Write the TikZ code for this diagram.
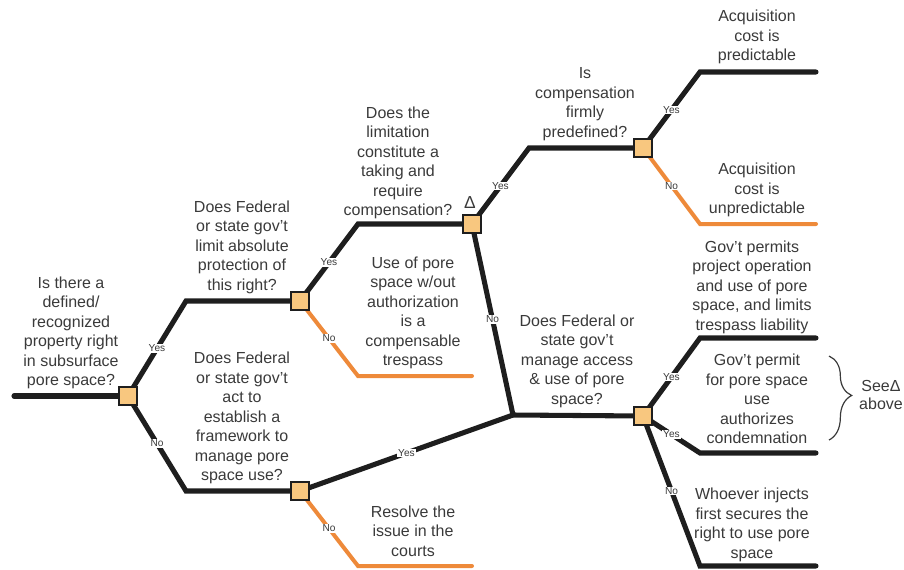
\documentclass[tikz,border=0pt]{standalone}
\usepackage{fontspec}
\setmainfont{Liberation Sans}
\usetikzlibrary{backgrounds,decorations.pathreplacing}
\definecolor{txt}{HTML}{3A3A3A}
\definecolor{boxfill}{HTML}{F8C77F}
\definecolor{nobranch}{HTML}{EE8A3A}
\definecolor{ink}{HTML}{1E1E1E}

\begin{document}
\begin{tikzpicture}[x=0.75pt,y=-0.75pt,
  decision/.style={rectangle, draw=ink, fill=boxfill, line width=1.8pt,
                   minimum size=13.2pt, inner sep=0pt},
  yesline/.style={draw=ink, line width=3.8pt, line cap=round, line join=miter},
  noline/.style={draw=nobranch, line width=3pt, line cap=round, line join=miter},
  q/.style={text=txt, align=center, font=\fontsize{12}{14.6}\selectfont, inner sep=0pt},
  tag/.style={fill=white, text=txt, font=\fontsize{7.6}{8}\selectfont, inner sep=0.6pt},
  brc/.style={draw=txt, line width=0.9pt,
              decorate, decoration={brace, amplitude=17pt, aspect=0.47}},
]
\useasboundingbox (0,0) rectangle (904,569);

% decision boxes
\node[decision] (b1) at (128,396) {};
\node[decision] (b2) at (300,301) {};
\node[decision] (b3) at (300,491) {};
\node[decision] (b4) at (472,224) {};
\node[decision] (b5) at (643,416) {};
\node[decision] (b6) at (643,148) {};

% bends, junction and free ends of the branches
\coordinate (s0) at (14,396);
\coordinate (c1y) at (186,301);
\coordinate (c1n) at (186,491);
\coordinate (c2y) at (358,224);
\coordinate (c2n) at (358,376);
\coordinate (e2n) at (472,376);
\coordinate (c3n) at (358,566);
\coordinate (e3n) at (472,566);
\coordinate (j)   at (513,415);
\coordinate (c4y) at (529,148);
\coordinate (c6y) at (700,72);
\coordinate (e6y) at (816,72);
\coordinate (c6n) at (700,224);
\coordinate (e6n) at (816,224);
\coordinate (c5a) at (700,338);
\coordinate (e5a) at (816,338);
\coordinate (c5b) at (700,453);
\coordinate (e5b) at (816,453);
\coordinate (c5n) at (700,566);
\coordinate (e5n) at (816,566);

\begin{scope}[on background layer]
  \draw[yesline] (s0) -- (b1.center);
  % root question
  \draw[yesline] (b1.center) -- node[tag] {Yes} (c1y) -- (b2.center);
  \draw[yesline] (b1.center) -- node[tag] {No} (c1n) -- (b3.center);
  % limit of protection
  \draw[yesline] (b2.center) -- node[tag] {Yes} (c2y) -- (b4.center);
  \draw[noline]  (b2.center) -- node[tag] {No} (c2n) -- (e2n);
  % framework
  \draw[noline]  (b3.center) -- node[tag] {No} (c3n) -- (e3n);
  \draw[yesline] (b3.center) -- node[tag] {Yes} (j) -- (b5.center);
  % taking
  \draw[yesline] (b4.center) -- node[tag] {No} (j);
  \draw[yesline] (b4.center) -- node[tag] {Yes} (c4y) -- (b6.center);
  % compensation predefined
  \draw[yesline] (b6.center) -- node[tag] {Yes} (c6y) -- (e6y);
  \draw[noline]  (b6.center) -- node[tag] {No} (c6n) -- (e6n);
  % access management
  \draw[yesline] (b5.center) -- node[tag] {Yes} (c5a) -- (e5a);
  \draw[yesline] (b5.center) -- node[tag] {Yes} (c5b) -- (e5b);
  \draw[yesline] (b5.center) -- node[tag] {No} (c5n) -- (e5n);
\end{scope}

% questions and outcomes
\node[q] (t1) at (71,333) {Is there a\\defined/\\recognized\\property right\\in subsurface\\pore space?};
\node[q] (t2) at (242,247) {Does Federal\\or state gov’t\\limit absolute\\protection of\\this right?};
\node[q] (t3) at (242,418) {Does Federal\\or state gov’t\\act to\\establish a\\framework to\\manage pore\\space use?};
\node[q] (t4) at (398,163) {Does the\\limitation\\constitute a\\taking and\\require\\compensation?};
\node[q] (t5) at (413,313) {Use of pore\\space w/out\\authorization\\is a\\compensable\\trespass};
\node[q] (t6) at (413,531) {Resolve the\\issue in the\\courts};
\node[q] (t7) at (585,104) {Is\\compensation\\firmly\\predefined?};
\node[q] (t8) at (757,37) {Acquisition\\cost is\\predictable};
\node[q] (t9) at (757,190) {Acquisition\\cost is\\unpredictable};
\node[q] (t10) at (752,287) {Gov’t permits\\project operation\\and use of pore\\space, and limits\\trespass liability};
\node[q] (t11) at (577,361) {Does Federal or\\state gov’t\\manage access\\\& use of pore\\space?};
\node[q] (t12) at (757,399) {Gov’t permit\\for pore space\\use\\authorizes\\condemnation};
\node[q] (t13) at (752,525) {Whoever injects\\first secures the\\right to use pore\\space};
\node[q, font=\fontsize{13}{14}\selectfont] (delta) at (470,203) {Δ};

% reference back to the taking question
\coordinate (brtop) at (829,356);
\coordinate (brbot) at (829,440);
\draw[brc] (brtop) -- (brbot);
\node[q, font=\fontsize{12}{13.5}\selectfont] (see) at (881,395) {SeeΔ\\above};
\end{tikzpicture}
\end{document}
